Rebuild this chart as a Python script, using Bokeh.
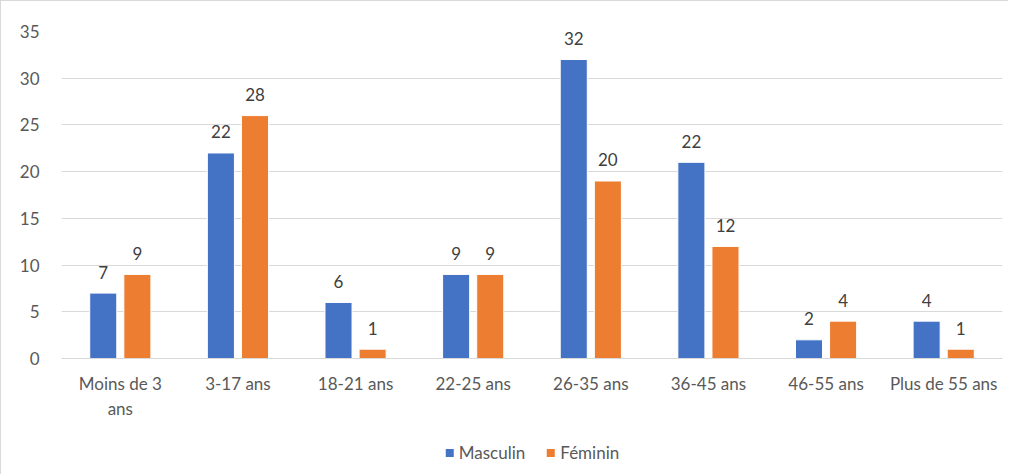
from bokeh.plotting import figure
from bokeh.layouts import column
from bokeh.models import ColumnDataSource, FactorRange, Range1d, SingleIntervalTicker, LabelSet, Legend, LegendItem
from bokeh.core.properties import value
from bokeh.transform import dodge
from bokeh.embed import file_html
from bokeh.resources import INLINE

categories = ["Moins de 3\nans", "3-17 ans", "18-21 ans", "22-25 ans", "26-35 ans", "36-45 ans", "46-55 ans", "Plus de 55 ans"]
masculin = [7, 22, 6, 9, 32, 21, 2, 4]
feminin = [9, 26, 1, 9, 19, 12, 4, 1]
masculin_labels = ["7", "22", "6", "9", "32", "22", "2", "4"]
feminin_labels = ["9", "28", "1", "9", "20", "12", "4", "1"]
series_names = ["Masculin", "Féminin"]

FONT = "Lato"
FS = "17px"
BLUE = "#4472C4"
ORANGE = "#ED7D31"

src = ColumnDataSource(dict(cat=categories, m=masculin, f=feminin, ml=masculin_labels, fl=feminin_labels))

p = figure(width=1008, height=430, x_range=FactorRange(*categories, range_padding=0),
           y_range=Range1d(0, 35), output_backend="svg", toolbar_location=None,
           min_border_left=60, min_border_right=7, min_border_top=30, min_border_bottom=73)
p.x_range.range_padding = 0
p.styles = {"border-left": "1px solid #d9d9d9", "border-top": "1px solid #d9d9d9"}

r1 = p.vbar(x=dodge("cat", -0.145, range=p.x_range), top="m", width=0.23, source=src,
            fill_color=BLUE, line_color="white", line_width=1)
r2 = p.vbar(x=dodge("cat", 0.145, range=p.x_range), top="f", width=0.23, source=src,
            fill_color=ORANGE, line_color="white", line_width=1)

for xoff, ycol, tcol in [(-0.145, "m", "ml"), (0.145, "f", "fl")]:
    p.add_layout(LabelSet(x=dodge("cat", xoff, range=p.x_range), y=ycol, text=tcol, source=src,
                          text_align="center", text_baseline="middle", y_offset=21,
                          text_font=value(FONT), text_font_size=FS, text_color="#404040"))

p.outline_line_color = None
p.background_fill_color = "white"
p.border_fill_color = "white"

p.xgrid.grid_line_color = None
p.ygrid.grid_line_color = "#d9d9d9"
p.ygrid.grid_line_width = 1
p.yaxis.ticker = SingleIntervalTicker(interval=5)
p.yaxis.axis_line_color = None
p.yaxis.major_tick_line_color = None
p.yaxis.minor_tick_line_color = None
p.yaxis.major_label_text_font = FONT
p.yaxis.major_label_text_font_size = FS
p.yaxis.major_label_text_color = "#595959"
p.yaxis.major_label_standoff = 16

p.xaxis.axis_line_color = "#d9d9d9"
p.xaxis.major_tick_line_color = None
p.xaxis.minor_tick_line_color = None
p.xaxis.major_label_text_font = FONT
p.xaxis.major_label_text_font_size = FS
p.xaxis.major_label_text_color = "#595959"
p.xaxis.major_label_standoff = 8

# legend panel (swatch proxies of zero size, only used for the legend keys)
p2 = figure(width=1008, height=44, output_backend="svg", toolbar_location=None,
            x_axis_type=None, y_axis_type=None, min_border=0,
            x_range=Range1d(0, 1), y_range=Range1d(0, 1))
p2.outline_line_color = None
p2.xgrid.grid_line_color = None
p2.ygrid.grid_line_color = None
p2.styles = {"border-left": "1px solid #d9d9d9"}
proxy = ColumnDataSource(dict(x=[0], top=[0]))
d1 = p2.vbar(x="x", top="top", width=0, source=proxy, fill_color=BLUE, line_color=None)
d2 = p2.vbar(x="x", top="top", width=0, source=proxy, fill_color=ORANGE, line_color=None)
legend = Legend(items=[LegendItem(label=series_names[0], renderers=[d1]),
                       LegendItem(label=series_names[1], renderers=[d2])],
                orientation="horizontal", location="center",
                label_text_font=FONT, label_text_font_size=FS, label_text_color="#595959",
                glyph_width=10, glyph_height=10, spacing=20, label_standoff=5,
                border_line_color=None, background_fill_alpha=0, padding=0, margin=0)
p2.add_layout(legend, "center")

open("out.html", "w").write(file_html(column(p, p2, spacing=0), INLINE))
